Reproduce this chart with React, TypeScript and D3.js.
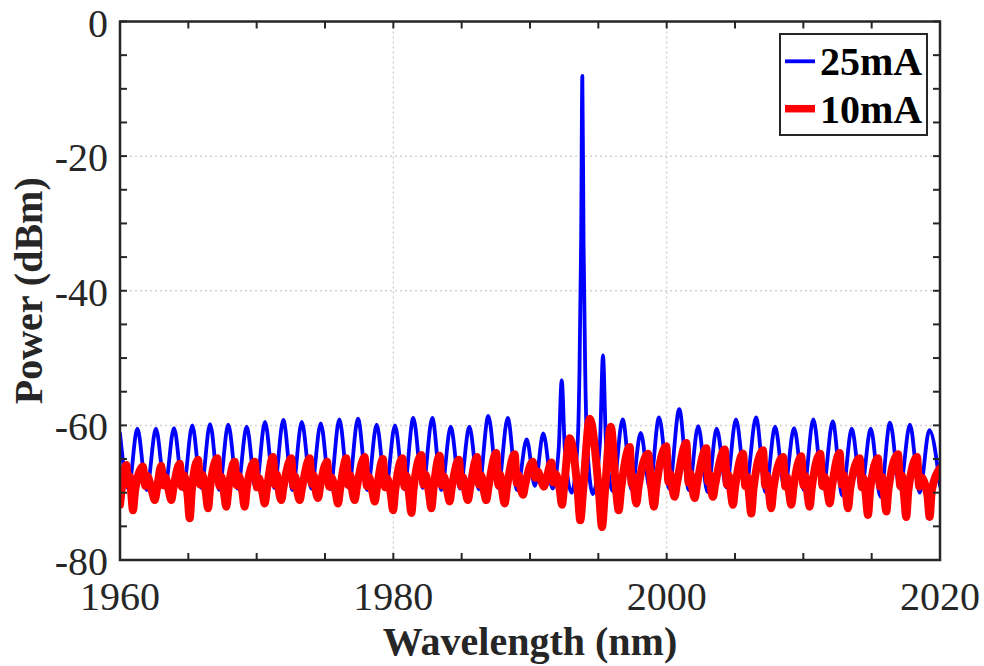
import React from "react";
import * as d3 from "d3";

// ---- Data ----
const xTicks = [1960, 1980, 2000, 2020];
const yTicks = [0, -20, -40, -60, -80];
const xMinorTicks = d3.range(1960, 2021, 5);
const yMinorTicks = d3.range(-80, 1, 5);
const legendLabels = ["25mA", "10mA"];
const seriesColors = ["#0000ff", "#ff0000"];

// 25 mA spectrum: [wavelength nm, power dBm]
const spectrum25mA: [number, number][] = [
  [1960.0, -61.2], [1960.62, -69.4],
  [1961.27, -60.5], [1961.95, -69.6],
  [1962.63, -60.5], [1963.29, -69.2],
  [1963.95, -60.4], [1964.62, -69.5],
  [1965.29, -60.0], [1965.94, -69.3],
  [1966.59, -59.8], [1967.25, -69.6],
  [1967.92, -59.9], [1968.6, -69.4],
  [1969.27, -60.2], [1969.94, -69.5],
  [1970.61, -59.5], [1971.28, -69.3],
  [1971.95, -59.2], [1972.62, -69.6],
  [1973.3, -59.5], [1974.0, -69.4],
  [1974.69, -59.7], [1975.37, -69.5],
  [1976.05, -59.1], [1976.73, -69.3],
  [1977.41, -59.0], [1978.1, -69.6],
  [1978.78, -59.9], [1979.45, -69.4],
  [1980.12, -60.0], [1980.79, -69.5],
  [1981.46, -58.9], [1982.15, -69.3],
  [1982.85, -58.9], [1983.52, -69.6],
  [1984.2, -60.2], [1984.88, -69.4],
  [1985.56, -60.2], [1986.25, -69.5],
  [1986.95, -58.6], [1987.66, -69.3],
  [1988.37, -58.9], [1989.06, -69.6],
  [1989.76, -62.1], [1990.36, -69.0],
  [1990.97, -61.2], [1991.65, -69.4],
  [1992.1, -63.5], [1992.32, -53.3], [1992.55, -63.5], [1993.05, -70.0],
  [1993.5, -62.0], [1993.62, -52.0], [1993.74, -33.0], [1993.83, -8.1],
  [1993.92, -33.0], [1994.04, -52.0], [1994.16, -62.0], [1994.6, -70.2],
  [1995.12, -62.5], [1995.34, -49.6], [1995.56, -62.5], [1996.06, -69.8],
  [1996.78, -59.1], [1997.44, -69.5],
  [1998.1, -61.1], [1998.77, -69.3],
  [1999.44, -58.8], [2000.18, -69.4],
  [2000.92, -57.6], [2001.62, -69.6],
  [2002.31, -60.1], [2002.99, -69.9],
  [2003.66, -60.5], [2004.37, -69.2],
  [2005.07, -59.1], [2005.8, -69.0],
  [2006.54, -58.8], [2007.24, -69.9],
  [2007.93, -60.2], [2008.63, -69.3],
  [2009.32, -60.4], [2010.03, -69.6],
  [2010.73, -59.1], [2011.44, -69.4],
  [2012.15, -59.4], [2012.85, -70.4],
  [2013.54, -60.5], [2014.24, -69.5],
  [2014.93, -60.5], [2015.64, -70.6],
  [2016.34, -59.6], [2017.07, -69.4],
  [2017.8, -59.9], [2018.51, -70.0],
  [2019.22, -60.7], [2020.0, -69.0],
];

// 10 mA spectrum: [wavelength nm, power dBm]
const spectrum10mA: [number, number][] = [
  [1960.0, -71.8],
  [1960.46, -65.9], [1960.6, -68.8], [1960.72, -67.6], [1960.82, -70.0], [1960.95, -72.6], [1961.11, -69.6],
  [1961.68, -66.1], [1961.84, -69.0], [1961.98, -67.5], [1962.38, -70.1], [1962.54, -71.1], [1962.7, -69.5],
  [1963.02, -66.0], [1963.18, -68.9], [1963.32, -67.7], [1963.59, -69.9], [1963.75, -71.1], [1963.91, -69.3],
  [1964.37, -65.7], [1964.53, -69.1], [1964.67, -67.4], [1964.94, -70.3], [1965.1, -73.8], [1965.26, -69.5],
  [1965.71, -65.1], [1965.87, -68.8], [1966.01, -67.3], [1966.28, -70.0], [1966.44, -72.3], [1966.6, -69.2],
  [1967.12, -64.9], [1967.28, -69.0], [1967.42, -67.6], [1967.62, -70.2], [1967.78, -72.1], [1967.94, -69.4],
  [1968.39, -65.4], [1968.55, -68.9], [1968.69, -67.5], [1968.96, -70.0], [1969.12, -72.1], [1969.28, -69.3],
  [1969.86, -65.4], [1970.02, -69.2], [1970.16, -67.8], [1970.43, -70.1], [1970.59, -71.6], [1970.75, -69.4],
  [1971.19, -64.7], [1971.35, -68.8], [1971.48, -67.3], [1971.64, -69.9], [1971.8, -71.1], [1971.96, -69.2],
  [1972.53, -64.9], [1972.69, -69.0], [1972.82, -67.6], [1972.99, -70.0], [1973.15, -71.1], [1973.31, -69.4],
  [1973.88, -64.9], [1974.04, -68.7], [1974.17, -67.4], [1974.33, -69.8], [1974.49, -70.8], [1974.65, -69.0],
  [1975.15, -65.4], [1975.31, -69.1], [1975.45, -67.7], [1975.79, -70.1], [1975.95, -71.6], [1976.11, -69.4],
  [1976.56, -64.9], [1976.72, -68.9], [1976.85, -67.4], [1977.01, -69.9], [1977.17, -71.1], [1977.33, -69.2],
  [1977.9, -64.7], [1978.06, -69.0], [1978.2, -67.6], [1978.48, -70.0], [1978.64, -71.3], [1978.8, -69.3],
  [1979.24, -65.0], [1979.4, -69.2], [1979.54, -67.8], [1979.82, -70.3], [1979.98, -72.6], [1980.14, -69.6],
  [1980.66, -64.9], [1980.82, -69.1], [1980.96, -67.5], [1981.16, -70.4], [1981.32, -73.0], [1981.48, -69.5],
  [1982.05, -64.4], [1982.21, -68.8], [1982.35, -67.3], [1982.62, -70.2], [1982.78, -72.3], [1982.94, -69.4],
  [1983.39, -64.5], [1983.55, -68.9], [1983.69, -67.6], [1983.96, -69.9], [1984.12, -71.3], [1984.28, -69.2],
  [1984.8, -65.1], [1984.96, -69.0], [1985.1, -67.7], [1985.3, -70.0], [1985.46, -71.1], [1985.62, -69.3],
  [1986.12, -64.7], [1986.28, -68.8], [1986.42, -67.4], [1986.64, -69.9], [1986.8, -71.1], [1986.96, -69.2],
  [1987.53, -64.1], [1987.69, -68.9], [1987.82, -67.3], [1987.99, -70.1], [1988.15, -71.6], [1988.31, -69.3],
  [1988.88, -64.3], [1989.04, -68.6], [1989.17, -67.4], [1989.33, -69.5], [1989.49, -70.3], [1989.65, -68.8],
  [1990.2, -65.4], [1990.4, -67.8], [1990.58, -66.9], [1990.85, -68.4], [1991.01, -69.1], [1991.17, -68.2],
  [1991.56, -65.5], [1991.72, -68.5], [1991.86, -67.2], [1992.18, -69.6], [1992.34, -71.8], [1992.5, -69.0],
  [1992.9, -61.9], [1993.48, -69.5], [1993.68, -74.1], [1993.88, -69.8],
  [1994.37, -59.0], [1995.05, -70.0], [1995.27, -75.1], [1995.47, -70.2],
  [1995.91, -60.2], [1996.3, -69.6], [1996.49, -72.6], [1996.67, -69.4],
  [1997.3, -63.2], [1997.44, -68.7], [1997.55, -67.6], [1997.64, -69.8], [1997.78, -71.6], [1997.94, -69.2],
  [1998.63, -64.2], [1998.89, -69.5], [1999.07, -72.1], [1999.23, -69.3],
  [1999.97, -63.1], [2000.13, -68.4], [2000.26, -67.2], [2000.42, -69.4], [2000.58, -70.6], [2000.74, -68.8],
  [2001.44, -62.6], [2001.6, -68.5], [2001.73, -67.1], [2001.89, -69.5], [2002.05, -70.8], [2002.21, -68.9],
  [2002.9, -63.4], [2003.04, -68.4], [2003.15, -67.3], [2003.25, -69.4], [2003.39, -70.6], [2003.55, -68.8],
  [2004.25, -63.6], [2004.41, -68.8], [2004.54, -67.4], [2004.69, -69.9], [2004.85, -71.8], [2005.01, -69.2],
  [2005.59, -64.2], [2005.75, -69.0], [2005.88, -67.6], [2006.03, -70.3], [2006.19, -73.1], [2006.35, -69.5],
  [2007.05, -63.7], [2007.21, -68.9], [2007.34, -67.4], [2007.49, -70.1], [2007.65, -72.3], [2007.81, -69.4],
  [2008.52, -64.7], [2008.68, -69.1], [2008.81, -67.7], [2008.96, -70.0], [2009.12, -71.8], [2009.28, -69.3],
  [2009.85, -64.6], [2010.01, -68.9], [2010.14, -67.5], [2010.3, -70.1], [2010.46, -72.1], [2010.62, -69.3],
  [2011.24, -64.2], [2011.4, -69.0], [2011.54, -67.6], [2011.77, -69.9], [2011.93, -71.6], [2012.09, -69.2],
  [2012.66, -64.1], [2012.82, -68.8], [2012.95, -67.3], [2013.11, -70.1], [2013.27, -72.3], [2013.43, -69.4],
  [2014.12, -64.9], [2014.28, -69.2], [2014.41, -67.8], [2014.57, -70.4], [2014.73, -73.3], [2014.89, -69.6],
  [2015.46, -64.9], [2015.62, -69.1], [2015.75, -67.6], [2015.91, -70.2], [2016.07, -72.8], [2016.23, -69.5],
  [2016.93, -64.3], [2017.09, -69.0], [2017.22, -67.5], [2017.37, -70.4], [2017.53, -73.6], [2017.69, -69.6],
  [2018.32, -64.7], [2018.48, -69.1], [2018.62, -67.7], [2019.08, -70.4], [2019.24, -73.6], [2019.4, -69.7],
  [2020.0, -66.4],
];

const W = 984;
const H = 666;
const plot = { left: 120, right: 940, top: 21.5, bottom: 560 };
const axisColor = "#262626";
const font = "'Liberation Serif', 'Times New Roman', Times, serif";

export default function App() {
  const x = d3.scaleLinear().domain([1960, 2020]).range([plot.left, plot.right]);
  const y = d3.scaleLinear().domain([-80, 0]).range([plot.bottom, plot.top]);
  const line = d3
    .line<[number, number]>()
    .x((d) => x(d[0]))
    .y((d) => y(d[1]))
    .curve(d3.curveMonotoneX);

  const tickLen = 7;

  return (
    <svg
      width={W}
      height={H}
      viewBox={`0 0 ${W} ${H}`}
      style={{ position: "absolute", left: 0, top: 0, background: "#fff" }}
    >
      <defs>
        <clipPath id="plotClip">
          <rect x={plot.left} y={plot.top} width={plot.right - plot.left} height={plot.bottom - plot.top} />
        </clipPath>
      </defs>
      <rect x={0} y={0} width={W} height={H} fill="#fff" />

      {/* grid */}
      <g stroke="#d2d2d2" strokeWidth={1.5} strokeDasharray="2,3">
        {yTicks
          .filter((t) => t !== 0 && t !== -80)
          .map((t) => (
            <line key={"gy" + t} x1={plot.left} x2={plot.right} y1={y(t)} y2={y(t)} />
          ))}
        {xTicks
          .filter((t) => t !== 1960 && t !== 2020)
          .map((t) => (
            <line key={"gx" + t} x1={x(t)} x2={x(t)} y1={plot.top} y2={plot.bottom} />
          ))}
      </g>

      {/* data */}
      <g clipPath="url(#plotClip)" fill="none" strokeLinejoin="round" strokeLinecap="round">
        <path d={line(spectrum25mA) || ""} stroke={seriesColors[0]} strokeWidth={3.8} />
        <path d={line(spectrum10mA) || ""} stroke={seriesColors[1]} strokeWidth={8} />
      </g>

      {/* ticks */}
      <g stroke={axisColor} strokeWidth={2}>
        {xMinorTicks.map((t) => (
          <g key={"xt" + t}>
            <line x1={x(t)} x2={x(t)} y1={plot.bottom} y2={plot.bottom - tickLen} />
            <line x1={x(t)} x2={x(t)} y1={plot.top} y2={plot.top + tickLen} />
          </g>
        ))}
        {yMinorTicks.map((t) => (
          <g key={"yt" + t}>
            <line x1={plot.left} x2={plot.left + tickLen} y1={y(t)} y2={y(t)} />
            <line x1={plot.right} x2={plot.right - tickLen} y1={y(t)} y2={y(t)} />
          </g>
        ))}
      </g>

      {/* box */}
      <rect
        x={plot.left}
        y={plot.top}
        width={plot.right - plot.left}
        height={plot.bottom - plot.top}
        fill="none"
        stroke={axisColor}
        strokeWidth={2.5}
      />

      {/* tick labels */}
      <g fontFamily={font} fontSize={40} fill={axisColor}>
        {yTicks.map((t) => (
          <text key={"yl" + t} x={108} y={y(t) + 15} textAnchor="end">
            {t}
          </text>
        ))}
        {xTicks.map((t) => (
          <text key={"xl" + t} x={x(t)} y={610} textAnchor="middle">
            {t}
          </text>
        ))}
      </g>

      {/* axis titles */}
      <text
        x={(plot.left + plot.right) / 2}
        y={655}
        textAnchor="middle"
        fontFamily={font}
        fontSize={40}
        fontWeight="bold"
        fill={axisColor}
      >
        Wavelength (nm)
      </text>
      <text
        transform={`translate(42, ${(plot.top + plot.bottom) / 2}) rotate(-90)`}
        textAnchor="middle"
        fontFamily={font}
        fontSize={40}
        fontWeight="bold"
        fill={axisColor}
      >
        Power (dBm)
      </text>

      {/* legend */}
      <g>
        <rect x={780} y={34} width={147} height={101} fill="#fff" stroke={axisColor} strokeWidth={2} />
        <line x1={785} x2={815} y1={61.3} y2={61.3} stroke={seriesColors[0]} strokeWidth={3.8} />
        <line x1={785} x2={815} y1={108.7} y2={108.7} stroke={seriesColors[1]} strokeWidth={7.5} />
        <text x={820} y={75} fontFamily={font} fontSize={40} fontWeight="bold" fill="#000">
          {legendLabels[0]}
        </text>
        <text x={820} y={123} fontFamily={font} fontSize={40} fontWeight="bold" fill="#000">
          {legendLabels[1]}
        </text>
      </g>
    </svg>
  );
}
